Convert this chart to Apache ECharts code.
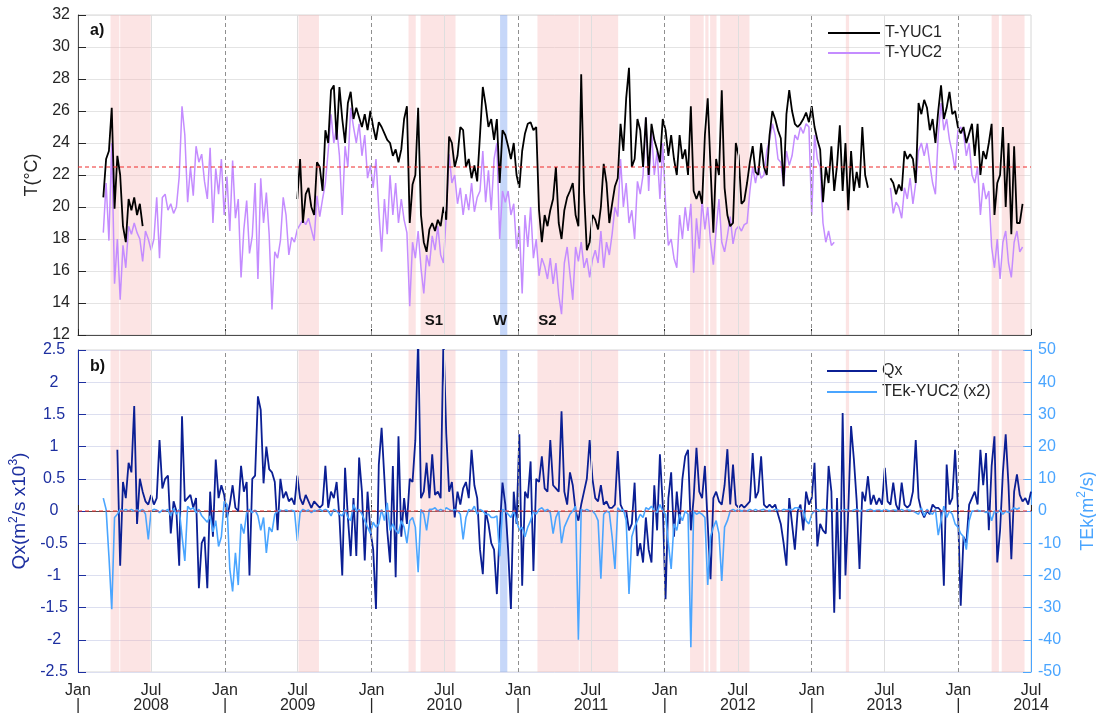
<!DOCTYPE html>
<html>
<head>
<meta charset="utf-8">
<script src="https://cdn.jsdelivr.net/npm/echarts@6/dist/echarts.min.js"></script>
<style>
  html, body { margin: 0; padding: 0; background: #fff; }
  #chart { width: 1096px; height: 715px; }
</style>
</head>
<body>
<div id="chart"></div>
<script>
// Weekly series, week 0 = 1 Jan 2008. Each segment: start week + values.
const yuc1StartWeeks = [9, 78, 289];
const yuc1SegA = [20.6, 23.0, 23.5, 26.2, 19.9, 23.2, 22.0, 18.8, 17.8, 20.5, 19.8, 20.6, 19.5, 20.2, 18.8];
const yuc1SegB = [
  20.5, 23.0, 19.0, 20.8, 21.2, 20.0, 19.5, 22.8, 22.5, 21.0,
  24.8, 24.0, 27.3, 27.6, 24.2, 27.5, 25.5, 24.0, 26.5, 27.2,
  25.5, 26.2, 25.6, 25.0, 25.8, 24.8, 26.0, 25.0, 24.2, 25.3,
  25.0, 24.6, 24.2, 24.0, 23.2, 23.6, 22.8, 23.6, 25.5, 26.3,
  19.0, 21.4, 22.0, 26.2, 19.5, 17.8, 17.2, 18.6, 19.0, 18.5,
  19.2, 18.8, 20.0, 19.2, 24.4, 24.0, 22.5, 23.2, 25.0, 24.8,
  22.5, 23.0, 21.8, 22.6, 21.6, 24.5, 27.5, 26.4, 25.0, 25.5,
  24.2, 25.5, 21.5, 24.8, 24.5, 23.8, 23.0, 24.0, 22.0, 21.2,
  23.5, 24.6, 25.2, 25.3, 24.8, 25.0, 19.8, 17.8, 19.5, 18.8,
  19.8, 20.5, 22.5, 19.0, 18.0, 19.8, 20.6, 21.0, 21.5, 19.5,
  18.8, 28.3, 21.0, 17.3, 17.8, 19.5, 19.2, 18.6, 20.0, 22.7,
  21.5, 19.0, 20.2, 21.3, 21.8, 25.2, 23.5, 26.8, 28.7, 22.5,
  23.0, 25.5, 24.8, 22.5, 25.6, 22.0, 25.2, 24.2, 23.6, 22.8,
  25.5, 24.8, 23.2, 24.5, 23.0, 22.0, 24.5, 23.0, 23.6, 22.0,
  26.3, 21.0, 20.5, 21.0, 20.2, 24.5, 26.8, 22.5, 18.4, 23.0,
  22.0, 27.3, 21.2, 19.5, 18.8, 19.0, 24.0, 23.2, 20.2, 20.4,
  21.5, 22.8, 23.8, 22.2, 22.0, 24.0, 22.5, 22.0, 24.5, 26.0,
  25.5, 24.8, 24.3, 21.3, 25.8, 27.3, 26.0, 25.2, 25.0, 25.2,
  25.5, 25.9, 25.3, 26.3, 25.0, 24.2, 23.6, 20.3, 22.5, 21.5,
  23.8, 21.0, 22.6, 25.1, 21.0, 24.0, 19.8, 23.5, 21.0, 22.2,
  21.2, 25.0, 22.0, 21.2
];
const yuc1SegC = [
  21.8, 21.5, 20.8, 21.4, 21.0, 23.5, 23.0, 23.3, 23.0, 21.5,
  26.5, 25.8, 26.7, 26.2, 24.8, 25.5, 24.0, 26.0, 27.6, 25.5,
  26.2, 27.2, 25.8, 26.0, 25.0, 24.6, 25.0, 24.0, 24.6, 25.2,
  23.2, 25.2, 22.0, 23.5, 23.0, 24.0, 25.2, 19.5, 21.5, 22.0,
  25.0, 20.0, 24.0, 18.3, 23.8, 19.0, 19.0, 20.2
];

const yuc2StartWeeks = [9, 289];
const yuc2SegA = [
  18.4, 21.5, 17.9, 24.0, 15.2, 18.0, 14.2, 17.6, 16.2, 18.8,
  18.3, 19.0, 18.4, 18.0, 16.6, 18.5, 18.0, 17.3, 18.0, 20.6,
  16.8, 20.6, 20.8, 19.8, 20.2, 19.6, 20.0, 21.9, 26.3, 24.5,
  20.3, 22.5, 20.7, 23.8, 22.8, 23.3, 21.6, 20.5, 23.7, 19.0,
  22.4, 20.8, 23.0, 19.5, 21.9, 18.5, 22.9, 19.3, 20.5, 15.6,
  18.6, 20.4, 17.1, 18.2, 21.5, 15.5, 21.8, 19.0, 20.9, 18.3,
  13.6, 17.2, 16.8, 17.9, 20.6, 19.5, 17.0, 18.1, 17.8, 18.6,
  18.9, 19.2, 18.9, 19.3, 18.6, 17.9, 20.7, 19.4, 20.5, 21.5,
  23.5, 25.8, 24.0, 25.0, 23.2, 19.5, 23.8, 22.5, 26.2, 25.0,
  24.0, 25.2, 23.2, 24.5, 21.8, 22.6, 21.2, 23.0, 19.8, 17.2,
  20.5, 18.3, 22.0, 19.5, 21.5, 19.0, 20.5, 19.2, 18.4, 13.8,
  17.8, 16.8, 18.5, 16.2, 14.6, 17.0, 16.3, 18.2, 17.3, 18.8,
  17.0, 16.5, 19.5, 23.3, 21.5, 22.0, 20.2, 21.2, 19.5, 20.8,
  19.8, 21.5, 19.7, 20.6, 21.0, 23.5, 20.3, 22.3, 19.8, 23.0,
  24.0, 18.0, 21.0, 20.3, 21.0, 19.5, 20.2, 17.4, 18.8, 14.6,
  19.5, 17.5, 20.0, 16.8, 18.0, 15.7, 16.8, 16.3, 15.5, 16.8,
  15.2, 16.5, 14.5, 13.3, 16.5, 17.5, 15.8, 14.2, 17.5, 16.6,
  17.8, 16.2, 16.8, 15.6, 16.7, 17.3, 16.5, 18.5, 16.2, 17.8,
  17.0, 18.3, 20.0, 19.4, 23.0, 20.0, 21.5, 19.0, 19.8, 18.0,
  21.6, 20.8, 22.0, 25.6, 21.0, 24.8, 22.0, 23.5, 20.5, 24.0,
  20.2, 17.6, 18.0, 16.8, 16.2, 19.5, 18.0, 20.0, 18.5, 20.2,
  15.9, 19.3, 17.4, 20.4, 18.6, 20.0, 17.8, 16.4, 18.6, 20.5,
  17.8, 17.2, 18.2, 19.4, 17.7, 18.6, 18.8, 18.5, 18.9, 19.0,
  21.0, 22.5, 21.5, 22.5, 21.8, 22.0, 23.5, 24.2, 25.2, 24.5,
  23.0, 22.8, 21.3, 23.5, 22.6, 23.2, 24.5, 24.2, 25.0, 24.6,
  25.2, 25.0, 19.5, 24.5, 23.0, 22.5, 19.0, 17.8, 18.5, 17.6, 17.8
];
const yuc2SegB = [
  21.2, 19.6, 20.3, 20.0, 19.3, 21.2, 20.5, 21.8, 20.2, 21.5,
  23.5, 24.0, 23.2, 24.0, 22.7, 21.5, 20.8, 24.5, 26.5, 24.8,
  25.5, 24.2, 23.4, 22.3, 24.8, 25.0, 24.6, 23.2, 24.0, 22.0,
  21.5, 22.5, 19.5, 21.5, 20.5, 21.0, 17.5, 16.2, 18.0, 15.5,
  17.8, 18.5, 16.5, 15.6, 17.8, 18.5, 17.2, 17.5
];

const qxStartWeek = 14;
const qxValues = [
  0.95, -0.85, 0.45, 0.2, 0.75, 0.6, 1.63, -0.2, 0.5, 0.3,
  0.15, 0.1, 0.25, 0.1, 0.2, 1.1, 0.35, 0.5, 0.55, -0.35,
  0.15, 0.0, -0.85, 1.47, 0.15, 0.2, 0.25, 0.05, 0.2, -1.2,
  -0.5, -0.4, -1.2, 0.3, -0.4, 0.8, 0.2, 0.4, 0.25, -0.1,
  0.1, 0.4, 0.05, 0.0, 0.7, 0.3, 0.45, -1.0, 0.5, 0.55,
  1.78, 1.57, 0.43, 1.0, 0.65, 0.6, 0.45, -0.3, 0.5, 0.2,
  0.3, 0.15, 0.2, 0.1, 0.55, 0.2, 0.1, 0.25, 0.15, 0.05,
  0.15, 0.1, 0.05, 0.1, 0.7, 0.05, 0.3, 0.2, 0.45, -0.1,
  -1.0, 0.67, -0.1, -0.7, 0.2, -0.7, 0.83, 0.3, -0.77, 0.3,
  -0.3, -0.6, -1.52, 0.72, 1.29, 0.5, -0.3, -0.8, 0.7, -1.03,
  1.16, -0.4, 0.2, -0.2, 0.5, 0.45, 1.1, 2.7, 0.2, 0.3,
  0.75, 0.2, 0.88, 0.25, 0.3, 0.2, 2.7, 1.2, 0.3, 0.45,
  -0.1, 0.3, 0.1, 0.35, 0.45, 0.2, 0.95, 0.4, 0.2, -0.6,
  -0.98, 0.0, -0.2, -0.5, -0.6, -1.29, -0.3, 0.44, 0.1, -0.6,
  -1.52, 0.3, -0.2, 1.19, -1.16, 0.3, 0.2, 0.77, -0.93, 0.5,
  0.45, 0.85, 0.35, 0.3, 1.1, 0.4, 0.35, 0.3, 1.55, 0.3,
  0.1, 0.6, 0.4, 0.0, -0.15, 0.1, 0.3, 0.5, 1.1, 0.5,
  0.2, 0.15, 0.4, 0.1, 0.15, 0.05, 0.05, 0.1, 0.93, 0.1,
  0.0, 0.0, -0.3, -0.2, 0.44, -0.7, -0.5, -0.8, -0.1, -0.6,
  -0.8, 0.4, -0.3, 0.88, 0.1, -1.37, 0.2, 0.6, -0.4, 0.3,
  -0.2, 0.5, 0.85, 0.95, -0.3, 0.2, 0.98, 0.3, 0.2, 0.7,
  -0.2, -1.06, 0.2, 0.3, 0.15, 0.1, 0.4, 0.96, 0.1, 0.72,
  0.1, 0.05, 0.1, 0.05, 0.1, 0.15, 0.9, 0.2, 0.3, 0.85,
  0.1, 0.05, 0.1, 0.05, 0.1, -0.05, -0.2, -0.5, -0.85, 0.2,
  -0.2, -0.6, 0.0, 0.1, -0.3, 0.3, 0.1, 0.2, 0.75, -0.55,
  -0.2, -0.3, -0.35, 0.7, 0.3, -1.58, 0.2, -1.37, 1.52, -1.0,
  0.0, 1.32, 0.8, 0.15, -0.9, 0.3, 0.15, 0.54, 0.1, 0.25,
  0.1, 0.2, 0.1, 0.67, 0.15, 0.1, 0.44, 0.1, 0.0, 0.44,
  0.1, 0.05, 0.1, 0.3, 1.1, 0.2, 0.0, -0.1, 0.0, -0.05,
  0.1, 0.05, 0.05, 0.0, -1.16, 0.72, 0.1, 0.2, 0.95, 0.05,
  -1.47, -0.4, -0.5, 0.1, 0.2, 0.3, 0.1, 0.95, 0.4, 0.9,
  -0.3, 0.7, 1.16, -0.8, -0.3, 0.6, 1.19, 0.4, -0.75, 0.3,
  0.57, 0.25, 0.15, 0.2, 0.1, 0.3
];

const tekStartWeek = 9;
const tekValues = [
  4.0, 0.5, -14, -30.5, -2, -1, 0.5, 0, 0.5, 0,
  0.5, 0, 0.3, 0, 0.5, -1, -8.8, 0, 0.5, 0.3,
  -0.5, 0.3, 0, 0.5, -1.5, 0.8, -1.0, 0.5, -7.7, -15.5,
  1.5, 0.5, 1.0, -0.5, 0.5, -1.5, -2.5, -3.5, -1.5, -6.5,
  -3, -11, -8, 3, 2, -18, -25, -13, -23, -4,
  -7, -0.5, 0.5, -0.5, 0.3, -1.5, -6, -2, -13, -5,
  -6.5, -1, 0, 0.2, 0, 0.3, 0, 0.2, 0, -9.3,
  -0.5, 0.5, 0, 0.3, -0.5, 0.2, 0, 0.5, 0, 0.5,
  0, -1.5, 0.5, 0, -1, -1.5, 0.5, -2, -3, 2,
  0, 0.5, -1, -3, -5, -7, -3.5, -5, -4, 0.5,
  -3, 2.5, -6, -4, -6, -7, -3, -5, -10, -3,
  -2, -5, -19, 0.5, -1, -6, 0.5, 0.5, 1, 0,
  0.5, 0, 1, 0.5, 0, 0.5, 0, -1, -8.8, -2,
  0.5, 0, 1.5, -1, 0.5, 0, -1, -1, -2, -2,
  -1.5, -14, 0.5, 0, -1, -2, 0, -3, -6, -5,
  -8, -5, -3, 0, -1, 0.5, 1, 0, 0.5, -0.5,
  -7, -2, 0, -10, -5, -3, -1, 0, 1.5, -40,
  0.5, 0, 0.5, 0, 0, -1, -3, -21, -1, 0,
  -0.5, -8, -18, 1, 0, 0.5, -3, -25.8, -8, -5,
  -3, -1, -2, 1, 0.5, 1.5, 0, -0.5, 2, 0,
  -1, -10, -18, -4, -6, -1, -3, 0, -1, -42.3,
  0, -1, -0.5, -1, -2, -23, -8, -5, -3, -7,
  -21.7, -5, -3, 0, 0.5, 0, 0.5, 0, 0.2, 0,
  0.5, 0, 0.5, 0, 0.3, 0.5, 0, 0.2, 0, 0.5,
  0.3, 0, 0.5, 0.3, 0.5, 0.3, 1.0, 1.0, 0.5, 0,
  -3, -4, -1, 0, 0.5, 0, 0.5, 0.3, 0, 0.5,
  0.2, 0, 0.3, 0, 0.5, 0.2, 0, 0.3, 0.5, 0,
  0.2, 0, 0.3, 0.5, 0, 0.2, 0.3, 0, 0.5, 0.2,
  0, 0.3, 0.2, 0, 0.5, 0, 0.3, 0.2, 0, -0.5,
  -1, 1.0, -1.5, 0.5, -0.5, -1, 0.5, -7.5, -3, 1.5,
  -2, 0, -1, -4, -5, -7, -8, -12, -3, 0,
  0, 0.2, 0, 0, -0.5, 0, -3, 0, -0.5, 0.3,
  -1, 0, -0.5, 0.2, 1, 0.5, 1.0
];

// Reference levels
const tempThreshold = 22.5;
const qxZero = 0;

// Shaded periods
const warmBands = [
  ['2008-03-22', '2008-04-13'], ['2008-04-15', '2008-06-30'],
  ['2009-07-03', '2009-08-23'],
  ['2010-04-03', '2010-04-21'], ['2010-05-03', '2010-07-29'],
  ['2011-02-18', '2011-06-01'], ['2011-06-03', '2011-09-07'],
  ['2012-03-04', '2012-04-07'], ['2012-04-11', '2012-04-19'],
  ['2012-04-23', '2012-05-09'], ['2012-05-18', '2012-07-30'],
  ['2013-03-27', '2013-04-04'],
  ['2014-03-25', '2014-04-12'], ['2014-04-19', '2014-06-15']
];
const winterBand = ['2010-11-17', '2010-12-05'];
const eventLabels = [['2010-06-05', 12.9, 'S1'], ['2010-11-17', 12.9, 'W'], ['2011-03-15', 12.9, 'S2']];

const tickYears = [2008, 2009, 2010, 2011, 2012, 2013, 2014];

const DAY = 86400000;
const toTime = s => { const p = s.split('-').map(Number); return new Date(p[0], p[1] - 1, p[2]).getTime(); };
const T0 = new Date(2008, 0, 1).getTime();
const XMIN = T0;
const XMAX = new Date(2014, 6, 1).getTime();
const weekTime = w => T0 + w * 7 * DAY;

function buildSegments(starts, segs) {
  const out = [];
  segs.forEach((vals, k) => {
    if (k > 0) out.push([weekTime(starts[k]) - DAY, null]);
    vals.forEach((v, i) => out.push([weekTime(starts[k] + i), v]));
  });
  return out;
}
const weekly = (start, vals) => vals.map((v, i) => [weekTime(start + i), v]);

const axisTicks = [];
tickYears.forEach(y => {
  axisTicks.push(new Date(y, 0, 1).getTime());
  axisTicks.push(new Date(y, 6, 1).getTime());
});

const FONT = '"Liberation Sans", Arial, Helvetica, sans-serif';
const INK = '#262626';
const QX_BLUE = '#0b1f94';
const QX_AXIS = '#1d2fa0';
const TEK_BLUE = '#4aa5ff';
const REF_RED = '#ee2a2a';

const bandData = warmBands.map(b => [
  { xAxis: toTime(b[0]), itemStyle: { color: 'rgba(248,180,180,0.36)' } },
  { xAxis: toTime(b[1]) }
]).concat([[
  { xAxis: toTime(winterBand[0]), itemStyle: { color: 'rgba(120,160,240,0.42)' } },
  { xAxis: toTime(winterBand[1]) }
]]);

const vLines = [];
tickYears.forEach(y => {
  if (y > 2008) vLines.push({ xAxis: new Date(y, 0, 1).getTime(), lineStyle: { type: [4, 3], color: '#8f8f8f', width: 1 } });
  if (y < 2014) vLines.push({ xAxis: new Date(y, 6, 1).getTime(), lineStyle: { type: 'solid', color: '#dedede', width: 1 } });
});

function hostSeries(gridIdx, yIdx, z, extra) {
  return Object.assign({
    type: 'line', xAxisIndex: gridIdx, yAxisIndex: yIdx, data: [], z: z, silent: true, symbol: 'none'
  }, extra);
}
function levelSeries(gridIdx, yIdx, level) {
  return {
    type: 'line', xAxisIndex: gridIdx, yAxisIndex: yIdx, z: 6, silent: true, symbol: 'none',
    data: [[XMIN, level], [XMAX, level]],
    lineStyle: { color: REF_RED, type: [4, 3], width: 1 }
  };
}

const xLabelFmt = v => {
  const d = new Date(v);
  return d.getMonth() === 0 ? 'Jan\n|' : 'Jul\n' + d.getFullYear();
};

function xAxisFor(gridIdx, withLabels) {
  return {
    type: 'value', gridIndex: gridIdx, min: XMIN, max: XMAX,
    axisLine: { show: true, lineStyle: { color: '#4d4d4d' } },
    axisTick: { show: true, inside: true, length: 6, customValues: axisTicks, lineStyle: { color: INK } },
    axisLabel: withLabels ? {
      show: true, customValues: axisTicks, formatter: xLabelFmt, color: INK,
      fontSize: 16, lineHeight: 15, margin: 11, fontFamily: FONT,
      showMinLabel: true, showMaxLabel: true
    } : { show: false },
    splitLine: { show: false }
  };
}

const chart = echarts.init(document.getElementById('chart'), null, { renderer: 'canvas' });
chart.setOption({
  animation: false,
  backgroundColor: '#fff',
  textStyle: { fontFamily: FONT },
  grid: [
    { left: 78, top: 15, width: 953, height: 320, show: true, borderColor: '#d6d6d6', borderWidth: 1,
      containLabel: false, outerBoundsMode: 'none' },
    { left: 78, top: 350, width: 953, height: 322, show: true, borderColor: '#d6d6d6', borderWidth: 1,
      containLabel: false, outerBoundsMode: 'none' }
  ],
  xAxis: [xAxisFor(0, false), xAxisFor(1, true)],
  yAxis: [
    {
      type: 'value', gridIndex: 0, min: 12, max: 32, interval: 2,
      name: 'T(°C)', nameLocation: 'middle', nameRotate: 90, nameGap: 33,
      nameTextStyle: { fontSize: 18, color: INK, fontFamily: FONT },
      axisLine: { show: true, lineStyle: { color: '#4d4d4d' } },
      axisTick: { show: true, inside: true, length: 8, lineStyle: { color: INK } },
      axisLabel: { color: INK, fontSize: 16, margin: 8, fontFamily: FONT },
      splitLine: { show: true, lineStyle: { color: '#e4e4e4', width: 1 } }
    },
    {
      type: 'value', gridIndex: 1, min: -2.5, max: 2.5, interval: 0.5,
      name: 'Qx(m{s|2}/s x10{s|3})', nameLocation: 'middle', nameRotate: 90, nameGap: 44,
      nameTextStyle: {
        fontSize: 19, color: QX_AXIS, fontFamily: FONT,
        rich: {
          s: { fontSize: 12, color: QX_AXIS, verticalAlign: 'top', lineHeight: 24, fontFamily: FONT }
        }
      },
      axisLine: { show: true, lineStyle: { color: QX_AXIS } },
      axisTick: { show: true, inside: true, length: 8, lineStyle: { color: QX_AXIS } },
      axisLabel: { color: QX_AXIS, fontSize: 16, margin: 24, align: 'center', fontFamily: FONT },
      splitLine: { show: true, lineStyle: { color: '#dcdff0', width: 1 } }
    },
    {
      type: 'value', gridIndex: 1, position: 'right', min: -50, max: 50, interval: 10,
      name: 'TEk(m{s|2}/s)', nameLocation: 'middle', nameRotate: 90, nameGap: 45,
      nameTextStyle: {
        fontSize: 18, color: TEK_BLUE, fontFamily: FONT,
        rich: {
          s: { fontSize: 12, color: TEK_BLUE, verticalAlign: 'top', lineHeight: 24, fontFamily: FONT }
        }
      },
      axisLine: { show: true, lineStyle: { color: TEK_BLUE } },
      axisTick: { show: true, inside: true, length: 8, lineStyle: { color: TEK_BLUE } },
      axisLabel: { color: TEK_BLUE, fontSize: 16, margin: 7, fontFamily: FONT },
      splitLine: { show: false }
    }
  ],
  legend: [
    {
      data: ['T-YUC1', 'T-YUC2'], orient: 'vertical', left: 828, top: 25, padding: 0,
      icon: 'rect', itemWidth: 52, itemHeight: 2, itemGap: 4,
      textStyle: { fontSize: 16, color: INK, fontFamily: FONT }
    },
    {
      data: ['Qx', 'TEk-YUC2 (x2)'], orient: 'vertical', left: 827, top: 363, padding: 0,
      icon: 'rect', itemWidth: 50, itemHeight: 2, itemGap: 5,
      textStyle: { fontSize: 16, color: INK, fontFamily: FONT }
    }
  ],
  series: [
    // shaded periods
    hostSeries(0, 0, 1, { markArea: { silent: true, data: bandData } }),
    hostSeries(1, 1, 1, { markArea: { silent: true, data: bandData } }),
    // month guide lines
    hostSeries(0, 0, 2, { markLine: { silent: true, symbol: ['none', 'none'], label: { show: false }, data: vLines } }),
    hostSeries(1, 1, 2, { markLine: { silent: true, symbol: ['none', 'none'], label: { show: false }, data: vLines } }),
    {
      name: 'T-YUC2', type: 'line', xAxisIndex: 0, yAxisIndex: 0, z: 3,
      data: buildSegments(yuc2StartWeeks, [yuc2SegA, yuc2SegB]),
      color: '#c48cff', symbol: 'none', connectNulls: false,
      lineStyle: { color: '#c48cff', width: 1.5 }
    },
    {
      name: 'T-YUC1', type: 'line', xAxisIndex: 0, yAxisIndex: 0, z: 4,
      data: buildSegments(yuc1StartWeeks, [yuc1SegA, yuc1SegB, yuc1SegC]),
      color: '#000000', symbol: 'none', connectNulls: false,
      lineStyle: { color: '#000000', width: 1.8 }
    },
    {
      name: 'Qx', type: 'line', xAxisIndex: 1, yAxisIndex: 1, z: 3,
      data: weekly(qxStartWeek, qxValues),
      color: QX_BLUE, symbol: 'none', clip: true,
      lineStyle: { color: QX_BLUE, width: 1.8 }
    },
    {
      name: 'TEk-YUC2 (x2)', type: 'line', xAxisIndex: 1, yAxisIndex: 2, z: 4,
      data: weekly(tekStartWeek, tekValues),
      color: TEK_BLUE, symbol: 'none', clip: true,
      lineStyle: { color: TEK_BLUE, width: 1.6 }
    },
    levelSeries(0, 0, tempThreshold),
    levelSeries(1, 1, qxZero)
  ]
});

// Panel tags, plus event tags placed at their dates on the temperature axes
const tags = [
  { type: 'text', left: 90, top: 23, z: 100, style: { text: 'a)', font: 'bold 16px ' + FONT, fill: '#111' } },
  { type: 'text', left: 90, top: 359, z: 100, style: { text: 'b)', font: 'bold 16px ' + FONT, fill: '#111' } }
];
eventLabels.forEach(e => {
  const p = chart.convertToPixel({ xAxisIndex: 0, yAxisIndex: 0 }, [toTime(e[0]), e[1]]);
  tags.push({
    type: 'text', x: p[0], y: p[1], z: 100,
    style: { text: e[2], font: 'bold 15px ' + FONT, fill: '#111', align: 'center', verticalAlign: 'middle' }
  });
});
chart.setOption({ graphic: tags });
</script>
</body>
</html>
